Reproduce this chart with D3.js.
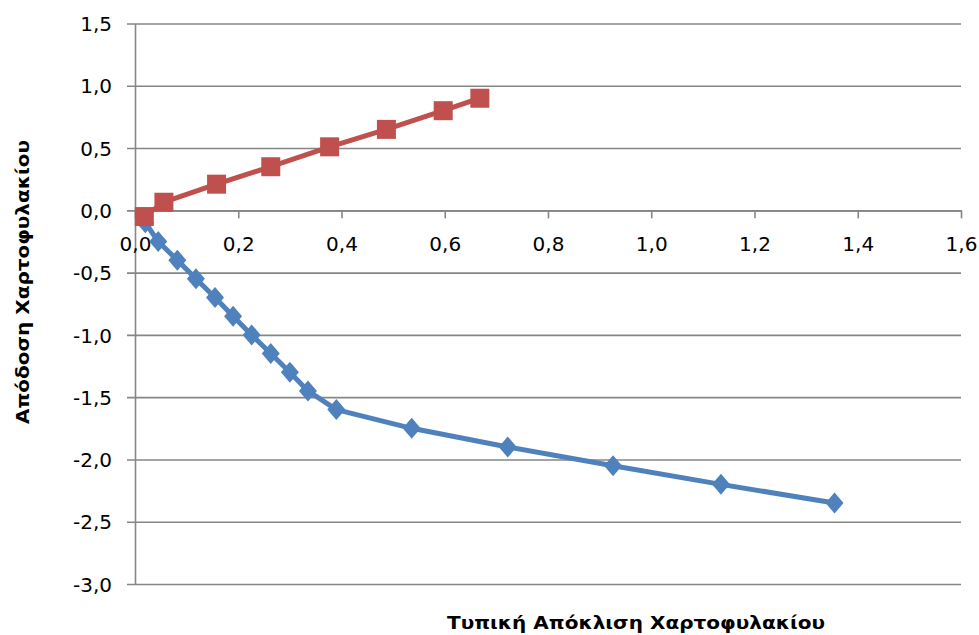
<!DOCTYPE html>
<html>
<head>
<meta charset="utf-8">
<script src="https://cdn.jsdelivr.net/npm/d3@7"></script>
<style>
  html, body { margin: 0; padding: 0; background: #fff; }
  svg { display: block; }
  text { font-family: "DejaVu Sans", sans-serif; fill: #000; }
</style>
</head>
<body>
<svg id="chart" width="979" height="635"></svg>
<script>
// Efficient frontier: portfolio standard deviation vs. portfolio return
const lowerRisk   = [0.02, 0.045, 0.082, 0.118, 0.155, 0.19, 0.226, 0.263, 0.30, 0.335, 0.39, 0.536, 0.722, 0.926, 1.135, 1.355];
const lowerReturn = [-0.10, -0.25, -0.40, -0.55, -0.70, -0.85, -1.00, -1.15, -1.30, -1.45, -1.60, -1.75, -1.90, -2.05, -2.20, -2.35];
const upperRisk   = [0.018, 0.056, 0.158, 0.263, 0.377, 0.487, 0.597, 0.668];
const upperReturn = [-0.05, 0.065, 0.21, 0.35, 0.51, 0.65, 0.80, 0.90];

const xTicks = [0, 0.2, 0.4, 0.6, 0.8, 1.0, 1.2, 1.4, 1.6];
const yTicks = [1.5, 1.0, 0.5, 0.0, -0.5, -1.0, -1.5, -2.0, -2.5, -3.0];

const xTitle = "Τυπική Απόκλιση Χαρτοφυλακίου";
const yTitle = "Απόδοση Χαρτοφυλακίου";

const svg = d3.select("#chart");
const gridColor = "#868686";
const blue = "#4F81BD";
const red = "#C0504D";

const x = d3.scaleLinear().domain([0, 1.6]).range([135, 961]);
const y = d3.scaleLinear().domain([-3, 1.5]).range([584, 23.5]);

// one decimal, comma separator, plain hyphen for negatives
const fmt = d => d.toFixed(1).replace(".", ",");

// Horizontal gridlines with y axis on the left
const yAxis = d3.axisLeft(y)
  .tickValues(yTicks)
  .tickSize(-(x.range()[1] - x.range()[0]))
  .tickSizeOuter(0)
  .tickFormat(fmt);

const gy = svg.append("g")
  .attr("transform", `translate(${x(0)},0)`)
  .call(yAxis);
gy.select(".domain").attr("stroke", gridColor).attr("stroke-width", 1.6);
gy.selectAll(".tick line")
  .attr("stroke", gridColor)
  .attr("stroke-width", 1.6)
  .attr("x1", -8);
gy.selectAll(".tick text")
  .attr("x", -23)
  .attr("dy", "0.36em")
  .style("font-size", "20px")
  .attr("fill", "#000");

// x axis crossing at zero return
const xAxis = d3.axisBottom(x)
  .tickValues(xTicks)
  .tickSize(8)
  .tickSizeOuter(0)
  .tickPadding(18)
  .tickFormat(fmt);

const gx = svg.append("g")
  .attr("transform", `translate(0,${y(0)})`)
  .call(xAxis);
gx.select(".domain").attr("stroke", gridColor).attr("stroke-width", 1.6);
gx.selectAll(".tick line").attr("stroke", gridColor).attr("stroke-width", 1.6);
gx.selectAll(".tick text")
  .style("font-size", "20px")
  .attr("fill", "#000");

// Axis titles
svg.append("text")
  .attr("x", 636)
  .attr("y", 629)
  .attr("text-anchor", "middle")
  .attr("textLength", 378)
  .attr("lengthAdjust", "spacingAndGlyphs")
  .style("font-size", "18px")
  .style("font-weight", "bold")
  .text(xTitle);

svg.append("text")
  .attr("transform", "translate(29,282) rotate(-90)")
  .attr("text-anchor", "middle")
  .attr("textLength", 284)
  .attr("lengthAdjust", "spacingAndGlyphs")
  .style("font-size", "18px")
  .style("font-weight", "bold")
  .text(yTitle);

const line = d3.line().x(d => x(d[0])).y(d => y(d[1]));

// Lower branch (diamonds)
const lowerPts = lowerRisk.map((r, i) => [r, lowerReturn[i]]);
svg.append("path")
  .datum(lowerPts)
  .attr("fill", "none")
  .attr("stroke", blue)
  .attr("stroke-width", 5)
  .attr("stroke-linejoin", "round")
  .attr("d", line);

const diamond = "M0,-10.5L9,0L0,10.5L-9,0Z";
svg.append("g").selectAll("path")
  .data(lowerPts)
  .join("path")
  .attr("transform", d => `translate(${x(d[0])},${y(d[1])})`)
  .attr("d", diamond)
  .attr("fill", blue);

// Upper branch (squares)
const upperPts = upperRisk.map((r, i) => [r, upperReturn[i]]);
svg.append("path")
  .datum(upperPts)
  .attr("fill", "none")
  .attr("stroke", red)
  .attr("stroke-width", 5)
  .attr("stroke-linejoin", "round")
  .attr("d", line);

svg.append("g").selectAll("rect")
  .data(upperPts)
  .join("rect")
  .attr("x", d => x(d[0]) - 9.5)
  .attr("y", d => y(d[1]) - 9.5)
  .attr("width", 19)
  .attr("height", 19)
  .attr("fill", red);
</script>
</body>
</html>
